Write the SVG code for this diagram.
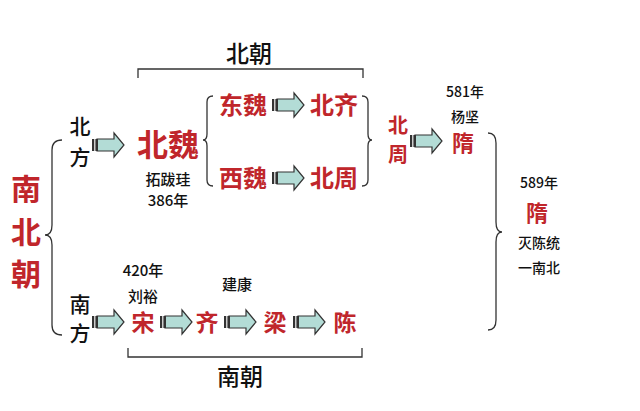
<svg xmlns="http://www.w3.org/2000/svg" width="640" height="411" viewBox="0 0 640 411">
<style>
.k{font-family:"Noto Sans CJK SC","Noto Sans",sans-serif;fill:#111;text-anchor:middle;font-weight:500}
.r{font-family:"Noto Sans CJK SC","Noto Sans",sans-serif;fill:#c0262b;text-anchor:middle;font-weight:bold}
.ln{fill:none;stroke:#333;stroke-width:1.3}
</style>
<defs>
<g id="arr">
<path d="M5,-6 H22 V-12 L32,0 L22,12 V6 H5 Z" fill="#b3dcd6" stroke="#333" stroke-width="1.2"/>
<rect x="0" y="-6" width="6" height="12" fill="#333"/>
<rect x="2" y="-6" width="1.5" height="12" fill="#ccc"/>
</g>
</defs>
<rect width="640" height="411" fill="#fff"/>
<g id="connectors">
<path class="ln" d="M138,78 V69 H363 V78"/>
<path class="ln" d="M128,348 V357 H362 V348"/>
<path class="ln" d="M62,140 Q52,140 52,150 V225 Q52,235 45,235 Q52,235 52,245 V325 Q52,335 62,335"/>
<path class="ln" d="M213,96 Q207,96 207,102 V134 Q207,140 203,140 Q207,140 207,146 V180 Q207,186 213,186"/>
<path class="ln" d="M362,96 Q368,96 368,102 V134 Q368,140 372,140 Q368,140 368,146 V180 Q368,186 362,186"/>
<path class="ln" d="M488,133 Q496,133 496,143 V222 Q496,232 502,232 Q496,232 496,242 V320 Q496,330 488,330"/>
<use href="#arr" x="92" y="145"/>
<use href="#arr" x="272" y="105"/>
<use href="#arr" x="272" y="178"/>
<use href="#arr" x="410" y="141"/>
<use href="#arr" x="92" y="322"/>
<use href="#arr" x="160" y="322"/>
<use href="#arr" x="224" y="322"/>
<use href="#arr" x="293" y="322"/>
</g>
<g id="nanbeichao"><text class="r" x="26" y="200" font-size="30" font-weight="normal">南</text><text class="r" x="26" y="243" font-size="30" font-weight="normal">北</text><text class="r" x="26" y="285" font-size="30" font-weight="normal">朝</text></g>
<g id="beichao-label"><text class="k" x="249" y="62" font-size="23">北朝</text></g>
<g id="nanchao-label"><text class="k" x="240" y="385" font-size="23">南朝</text></g>
<g id="beifang"><text class="k" x="80" y="134" font-size="21">北</text><text class="k" x="80" y="165" font-size="21">方</text></g>
<g id="nanfang"><text class="k" x="80" y="312" font-size="21">南</text><text class="k" x="80" y="341" font-size="21">方</text></g>
<g id="beiwei"><text class="r" x="168" y="156" font-size="31">北魏</text><text class="k" x="168" y="185" font-size="15">拓跋珪</text><text class="k" x="168" y="206" font-size="15">386年</text></g>
<g id="dongwei"><text class="r" x="243" y="114" font-size="24">东魏</text></g>
<g id="beiqi"><text class="r" x="334" y="114" font-size="24">北齐</text></g>
<g id="xiwei"><text class="r" x="243" y="187" font-size="24">西魏</text></g>
<g id="beizhou"><text class="r" x="334" y="187" font-size="24">北周</text></g>
<g id="beizhou2"><text class="r" x="398" y="133" font-size="20">北</text><text class="r" x="398" y="162" font-size="20">周</text></g>
<g id="sui581"><text class="k" x="465" y="97" font-size="14">581年</text><text class="k" x="465" y="122" font-size="14">杨坚</text><text class="r" x="463" y="151" font-size="22">隋</text></g>
<g id="sui589"><text class="k" x="539" y="188" font-size="14">589年</text><text class="r" x="537" y="221" font-size="22">隋</text><text class="k" x="539" y="248" font-size="14">灭陈统</text><text class="k" x="539" y="273" font-size="14">一南北</text></g>
<g id="song"><text class="k" x="143" y="276" font-size="15">420年</text><text class="k" x="143" y="302" font-size="15">刘裕</text><text class="r" x="143" y="331" font-size="23">宋</text></g>
<g id="qi"><text class="k" x="237" y="290" font-size="15">建康</text><text class="r" x="207" y="331" font-size="23">齐</text></g>
<g id="liang"><text class="r" x="275" y="331" font-size="23">梁</text></g>
<g id="chen"><text class="r" x="345" y="331" font-size="23">陈</text></g>
</svg>
